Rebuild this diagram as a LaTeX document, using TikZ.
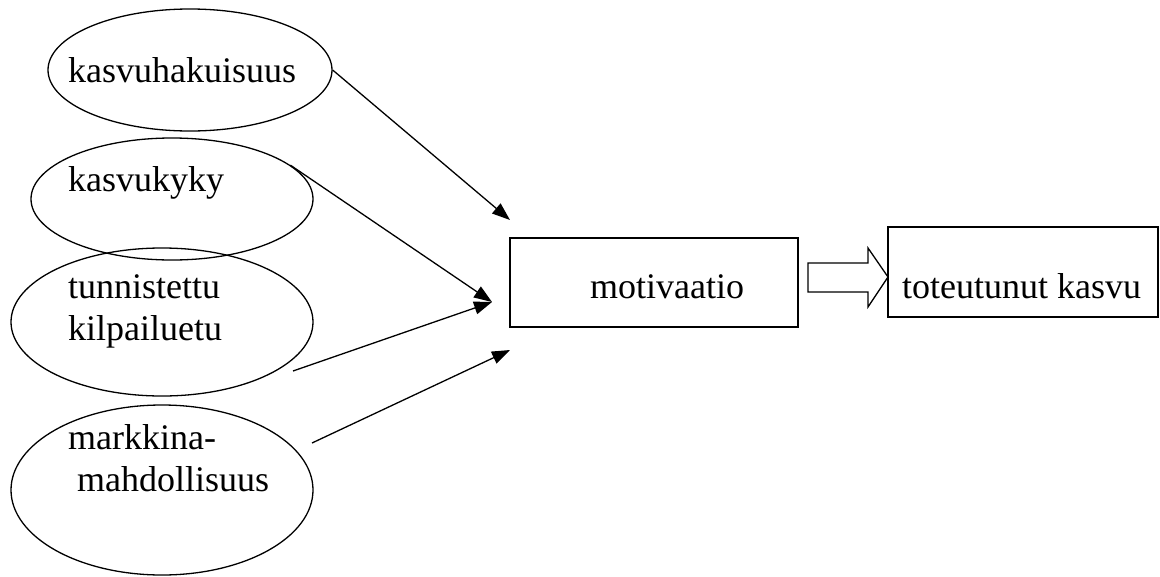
\documentclass[tikz,border=0pt]{standalone}
\usepackage{fontspec}
\setmainfont{Liberation Serif}
\usetikzlibrary{arrows.meta,shapes.geometric}
\tikzset{
  oval/.style={ellipse, draw, line width=1.3pt, inner sep=0pt},
  boxnode/.style={rectangle, draw, line width=1.3pt, inner sep=0pt},
  lbl/.style={anchor=base west, inner sep=0pt, font=\fontsize{36}{42}\selectfont},
  conn/.style={-{Triangle[length=18pt,width=13pt]}, line width=1.3pt},
  hollow/.style={draw, line width=1.3pt, fill=white, line join=miter}
}
\begin{document}
\begin{tikzpicture}[x=1pt,y=-1pt]
\useasboundingbox (0,0) rectangle (1160,576);
% ellipses
\node[oval, minimum width=284pt, minimum height=122pt] (e1) at (190,70) {};
\node[oval, minimum width=282pt, minimum height=122pt] (e2) at (172,199) {};
\node[oval, minimum width=302pt, minimum height=148pt] (e3) at (162,322) {};
\node[oval, minimum width=302pt, minimum height=170pt] (e4) at (162,490) {};
% ellipse texts
\node[lbl] (t1) at (68,82) {kasvuhakuisuus};
\node[lbl] (t2) at (68,191) {kasvukyky};
\node[lbl] (t3a) at (68,298) {tunnistettu};
\node[lbl] (t3b) at (68,340) {kilpailuetu};
\node[lbl] (t4a) at (68,449) {markkina-};
\node[lbl] (t4b) at (77,491) {mahdollisuus};
% boxes
\node[boxnode, minimum width=288pt, minimum height=89pt] (mot) at (654,282.5) {};
\node[lbl] (motl) at (590,298) {motivaatio};
\node[boxnode, minimum width=270pt, minimum height=90pt] (kas) at (1023,272) {};
\node[lbl] (kasl) at (902,298) {toteutunut kasvu};
% arrow endpoints
\coordinate (a1) at (510,220);
\coordinate (a2) at (492,302);
\coordinate (s3) at (293,371);
\coordinate (s4) at (312,443);
\coordinate (a4) at (510,350);
% connectors
\draw[conn] (e1.east) -- (a1);
\draw[conn] (e2.16) -- (a2);
\draw[conn] (s3) -- (a2);
\draw[conn] (s4) -- (a4);
% hollow block arrow
\draw[hollow] (808,263) -- (868,263) -- (868,248) -- (888,277) -- (868,307) -- (868,292) -- (808,292) -- cycle;
\end{tikzpicture}
\end{document}
